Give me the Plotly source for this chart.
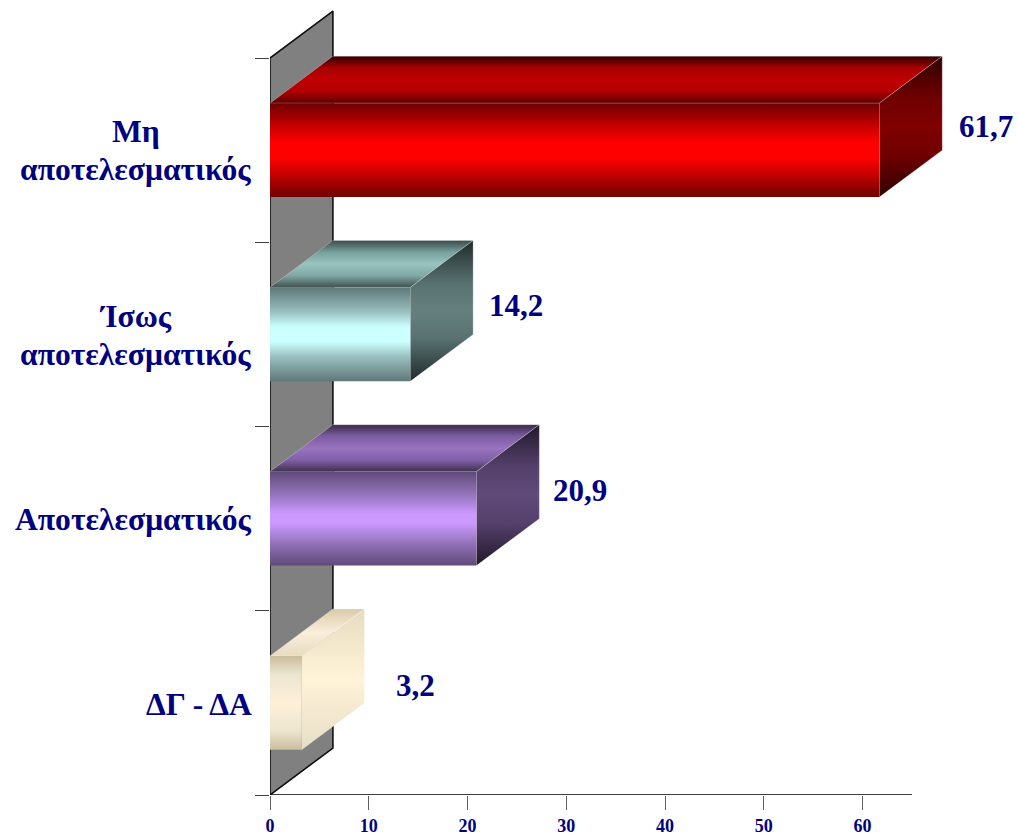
import plotly.graph_objects as go

categories = [["Μη", "αποτελεσματικός"], ["Ίσως", "αποτελεσματικός"], ["Αποτελεσματικός"], ["ΔΓ - ΔΑ"]]
values = [61.7, 14.2, 20.9, 3.2]
value_labels = ["61,7", "14,2", "20,9", "3,2"]
x_ticks = [0, 10, 20, 30, 40, 50, 60]
boundaries = [-0.5, 0.5, 1.5, 2.5, 3.5]
x_axis_end = 65

# hand-placed label nudges, in pixels
label_dx = [15, 14, 12, 29]
label_dy = [0, 5, 5, -6]
category_dy = [0, -1.5, 0, -1]

front_colors = [
    [[0, "#6e0000"], [0.25, "#c80000"], [0.42, "#ff0000"], [0.58, "#ff0000"], [0.75, "#c80000"], [1, "#6e0000"]],
    [[0, "#5f7878"], [0.25, "#96bcbc"], [0.42, "#ccffff"], [0.58, "#ccffff"], [0.75, "#96bcbc"], [1, "#5f7878"]],
    [[0, "#5f4a78"], [0.25, "#9675bd"], [0.45, "#cc99ff"], [0.55, "#cc99ff"], [0.75, "#9675bd"], [1, "#5f4a78"]],
    [[0, "#cbbd9c"], [0.2, "#ebe5d0"], [0.5, "#fff0d8"], [0.8, "#ebe5d0"], [1, "#cbbd9c"]],
]
top_colors = [
    [[0, "#600000"], [0.25, "#b00000"], [0.5, "#c00000"], [0.75, "#a80000"], [1, "#300000"]],
    [[0, "#3f5050"], [0.25, "#80a8a4"], [0.5, "#99c4c0"], [0.75, "#78a09c"], [1, "#3a4a4a"]],
    [[0, "#40304f"], [0.25, "#8060a8"], [0.5, "#9973bf"], [0.75, "#7c5ca2"], [1, "#3a2c48"]],
    [[0, "#e6dcc0"], [0.5, "#fbeeda"], [1, "#d8cbaa"]],
]
side_colors = [
    [[0, "#300000"], [0.3, "#700000"], [0.5, "#800000"], [0.7, "#700000"], [1, "#300000"]],
    [[0, "#1f2b2b"], [0.3, "#587070"], [0.5, "#668080"], [0.7, "#587070"], [1, "#1f2b2b"]],
    [[0, "#201828"], [0.3, "#55406c"], [0.5, "#604b78"], [0.7, "#55406c"], [1, "#201828"]],
    [[0, "#e6dec6"], [0.5, "#fff3d8"], [1, "#e6dcc0"]],
]

NAVY = "#000080"
FONT = "Liberation Serif"
DX, DY = 6.37, 0.255   # oblique depth of the 3-D look, in axis units
HALF = 0.255           # half of a bar's thickness, in axis units
EDGE = dict(color="rgba(255,255,255,0.35)", width=0.7)

fig = go.Figure()


def face(xs, ys, colorscale=None, fillcolor=None, line=None):
    fig.add_trace(go.Scatter(
        x=xs, y=ys, mode="lines" if line else "none", fill="toself",
        fillcolor=fillcolor,
        fillgradient=dict(type="vertical", colorscale=colorscale) if colorscale else None,
        line=line or dict(width=0), hoverinfo="skip", showlegend=False,
    ))


lo, hi = boundaries[0], boundaries[-1]
face([0, 0, DX, DX, 0], [hi, lo, lo - DY, hi - DY, hi], fillcolor="#808080",
     line=dict(color="#101010", width=1.6))

for i, v in enumerate(values):
    t, b = i - HALF, i + HALF
    face([0, v, v + DX, DX, 0], [t, t, t - DY, t - DY, t], colorscale=top_colors[i], line=EDGE)
    face([v, v + DX, v + DX, v, v], [t, t - DY, b - DY, b, t], colorscale=side_colors[i], line=EDGE)
    face([0, v, v, 0, 0], [t, t, b, b, t], colorscale=front_colors[i])

# x-axis base line, which stops short of the plot area's right edge
fig.add_trace(go.Scatter(x=[0, x_axis_end], y=[hi, hi], mode="lines",
                         line=dict(color="black", width=1.3), hoverinfo="skip", showlegend=False,
                         cliponaxis=False))

value_font = dict(family=FONT, size=31, color=NAVY, weight="bold")
category_font = dict(family=FONT, size=31.6, color=NAVY, weight="bold")
annotations = []
for i, (v, lab) in enumerate(zip(values, value_labels)):
    annotations.append(dict(x=v + DX, y=i - DY / 2, xref="x", yref="y", text=lab,
                            xanchor="left", yanchor="middle", xshift=label_dx[i],
                            yshift=label_dy[i], showarrow=False, font=value_font))

for i, lines in enumerate(categories):
    if len(lines) == 1:
        annotations.append(dict(x=0, y=i, xref="x", yref="y", text=lines[0], xanchor="right",
                                yanchor="middle", xshift=-16, yshift=-1 + category_dy[i],
                                showarrow=False, font=category_font))
    else:
        for j, line in enumerate(lines):
            annotations.append(dict(x=0, y=i, xref="x", yref="y", text=line, xanchor="center",
                                    yanchor="middle", xshift=-134.5,
                                    yshift=19 - 38 * j + category_dy[i],
                                    showarrow=False, font=category_font))

fig.update_layout(
    width=1017, height=835, margin=dict(l=270, r=30, t=5, b=40, autoexpand=False),
    paper_bgcolor="white", plot_bgcolor="white", showlegend=False, annotations=annotations,
    xaxis=dict(range=[0, 72.6], tickvals=x_ticks, ticks="outside", ticklen=14, tickwidth=1.3,
               tickcolor="#606060", showline=False, showgrid=False, zeroline=False,
               tickfont=dict(family=FONT, size=18, color=NAVY, weight="bold")),
    yaxis=dict(range=[hi, lo - 0.2877], tickvals=boundaries, ticktext=[""] * len(boundaries),
               ticks="outside", ticklen=14, tickwidth=1.3, tickcolor="#404040",
               showline=False, showgrid=False, zeroline=False),
)
fig.write_html("out.html", config={"displayModeBar": False},
               post_script="document.body.style.margin='0';document.body.style.overflow='hidden';")
